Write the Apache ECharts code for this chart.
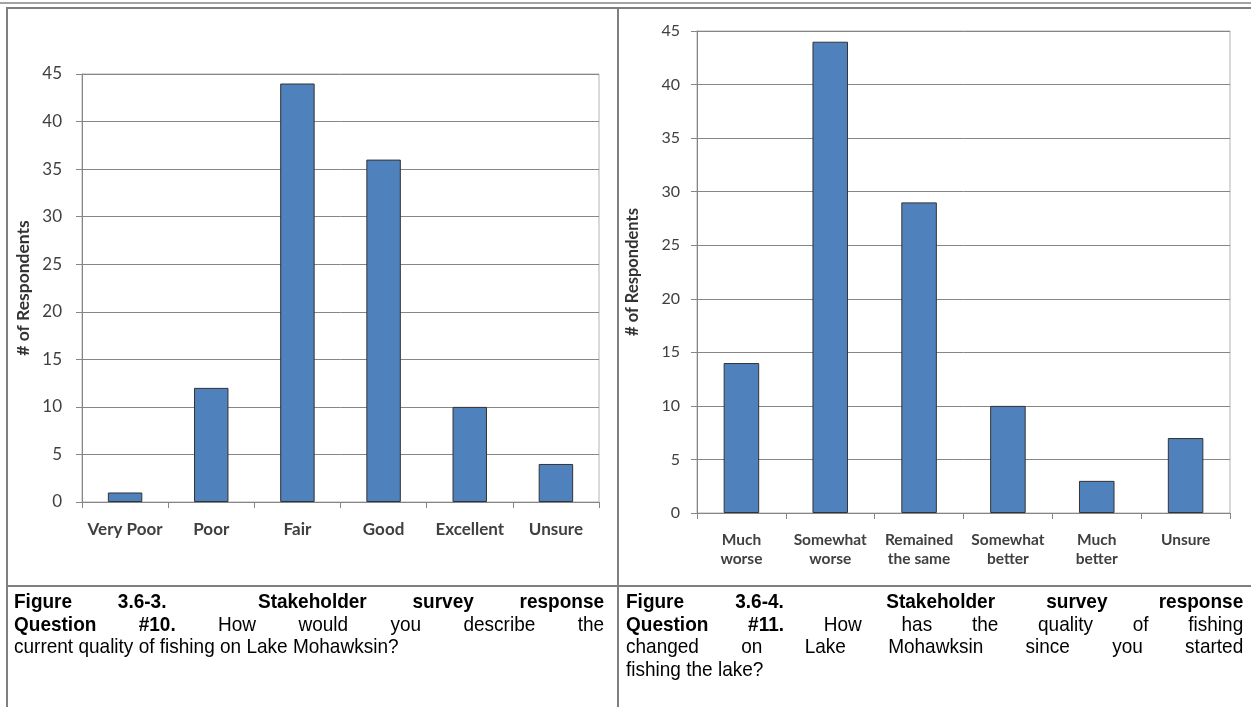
<!DOCTYPE html>
<html>
<head>
<meta charset="utf-8">
<title>Stakeholder survey responses</title>
<script src="https://cdn.jsdelivr.net/npm/echarts@6/dist/echarts.min.js"></script>
<style>
  html, body { margin: 0; padding: 0; background: #fff; }
  body { width: 1251px; height: 707px; position: relative; overflow: hidden; }
  #chart { position: absolute; left: 0; top: 0; width: 1251px; height: 707px; }
  .rule { position: absolute; }
  /* caption type is slightly condensed */
  .caption {
    position: absolute;
    font-family: "Liberation Sans", Arial, sans-serif;
    font-size: 21px;
    line-height: 22.5px;
    color: #000;
    transform: scaleX(0.905);
    transform-origin: 0 0;
  }
  .caption .ln { text-align: justify; text-align-last: justify; }
  .caption .ln.end { text-align: left; text-align-last: left; }
  .caption b { font-weight: bold; }
</style>
</head>
<body>
<div id="chart"></div>

<!-- table frame -->
<div class="rule" style="left:0;top:2px;width:1251px;height:2px;background:#a3a3a3"></div>
<div class="rule" style="left:6px;top:7px;width:1245px;height:2px;background:#7f7f7f"></div>
<div class="rule" style="left:6px;top:7px;width:2px;height:700px;background:#7f7f7f"></div>
<div class="rule" style="left:617px;top:7px;width:2px;height:700px;background:#7f7f7f"></div>
<div class="rule" style="left:6px;top:585px;width:1245px;height:2px;background:#7f7f7f"></div>

<div class="caption" style="left:14px;top:590px;width:652px">
  <div class="ln"><b>Figure 3.6-3.&nbsp; Stakeholder survey response</b></div>
  <div class="ln"><b>Question #10.</b> How would you describe the</div>
  <div class="ln end">current quality of fishing on Lake Mohawksin?</div>
</div>
<div class="caption" style="left:626px;top:590px;width:682px">
  <div class="ln"><b>Figure 3.6-4.&nbsp; Stakeholder survey response</b></div>
  <div class="ln"><b>Question #11.</b> How has the quality of fishing</div>
  <div class="ln">changed on Lake Mohawksin since you started</div>
  <div class="ln end">fishing the lake?</div>
</div>

<script>
// Question #10: current quality of fishing
const q10Categories = ['Very Poor', 'Poor', 'Fair', 'Good', 'Excellent', 'Unsure'];
const q10Counts = [1, 12, 44, 36, 10, 4];

// Question #11: change in fishing quality since starting
const q11Categories = ['Much\nworse', 'Somewhat\nworse', 'Remained\nthe same', 'Somewhat\nbetter', 'Much\nbetter', 'Unsure'];
const q11Counts = [14, 44, 29, 10, 3, 7];

const yAxisTitle = '# of Respondents';
const yMin = 0, yMax = 45, yStep = 5;

const FONT = 'Lato, "Open Sans", sans-serif';
const AXIS_GRAY = '#868686';
const TEXT_GRAY = '#404040';
const BAR_FILL = '#4f81bd';
const BAR_EDGE = '#333333';

function valueAxis(gridIndex, gap, titleSize, labelSize, labelMargin) {
  return {
    type: 'value', gridIndex: gridIndex,
    min: yMin, max: yMax, interval: yStep,
    name: yAxisTitle, nameLocation: 'middle', nameRotate: 90, nameGap: gap,
    nameTextStyle: { fontFamily: FONT, fontWeight: 'bold', fontSize: titleSize, color: '#333' },
    axisLine: { show: true, lineStyle: { color: AXIS_GRAY, width: 1 } },
    axisTick: { show: true, length: 6, lineStyle: { color: AXIS_GRAY } },
    axisLabel: { fontFamily: FONT, fontSize: labelSize, color: TEXT_GRAY, margin: labelMargin },
    splitLine: { show: true, lineStyle: { color: AXIS_GRAY, width: 1 } }
  };
}

function categoryAxis(gridIndex, cats, labelSize, labelMargin, lineH) {
  return {
    type: 'category', gridIndex: gridIndex, data: cats,
    axisLine: { show: true, lineStyle: { color: AXIS_GRAY, width: 1 } },
    axisTick: { show: true, length: 6, alignWithLabel: false, lineStyle: { color: AXIS_GRAY } },
    axisLabel: {
      fontFamily: FONT, fontSize: labelSize, fontWeight: 'bold', color: TEXT_GRAY,
      margin: labelMargin, interval: 0, lineHeight: lineH, hideOverlap: false
    },
    splitLine: { show: false }
  };
}

function barSeries(idx, values) {
  return {
    type: 'bar', xAxisIndex: idx, yAxisIndex: idx, data: values,
    barCategoryGap: '60%',
    itemStyle: { color: BAR_FILL, borderColor: BAR_EDGE, borderWidth: 1 },
    emphasis: { disabled: true },
    animation: false
  };
}

const chart = echarts.init(document.getElementById('chart'), null, { renderer: 'canvas' });
chart.setOption({
  animation: false,
  backgroundColor: 'transparent',
  grid: [
    { left: 82, top: 74, width: 517, height: 428, containLabel: false, outerBoundsMode: 'none',
      show: true, borderColor: '#b3b3b3', borderWidth: 1, backgroundColor: 'transparent' },
    { left: 697, top: 31, width: 533, height: 482, containLabel: false, outerBoundsMode: 'none',
      show: true, borderColor: '#b3b3b3', borderWidth: 1, backgroundColor: 'transparent' }
  ],
  xAxis: [
    categoryAxis(0, q10Categories, 17, 18, 20),
    categoryAxis(1, q11Categories, 15.5, 17, 19)
  ],
  yAxis: [
    valueAxis(0, 50, 17.5, 17, 20),
    valueAxis(1, 56, 16.5, 16, 17)
  ],
  series: [
    barSeries(0, q10Counts),
    barSeries(1, q11Counts)
  ]
});
</script>
</body>
</html>
